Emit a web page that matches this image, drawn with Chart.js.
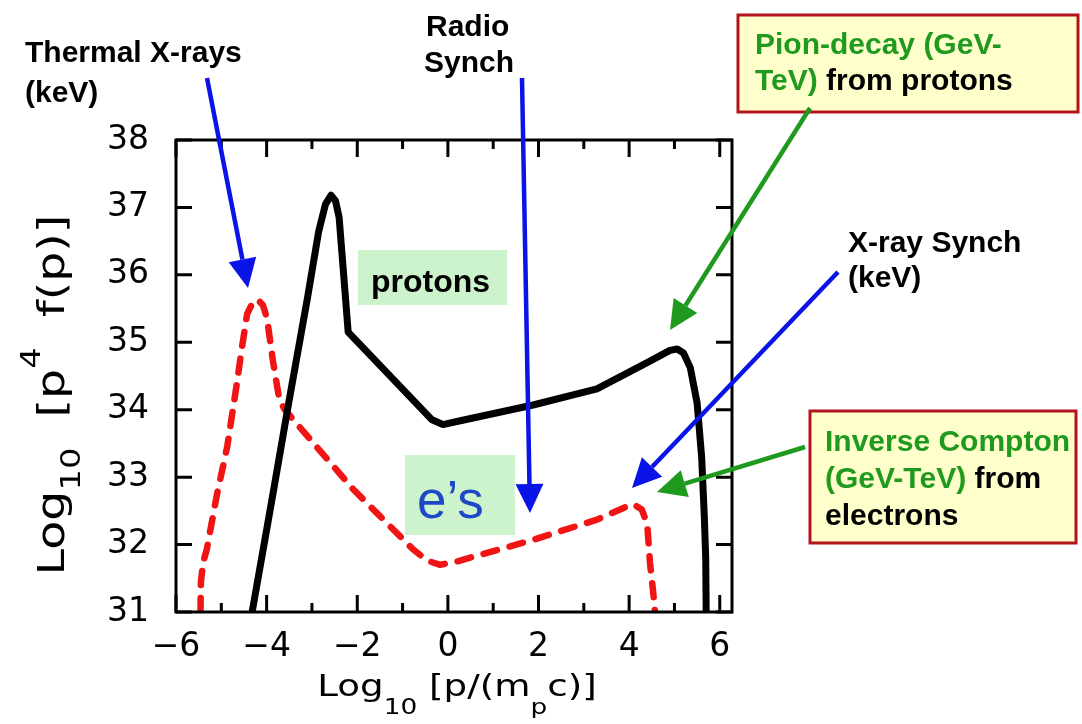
<!DOCTYPE html>
<html>
<head>
<meta charset="utf-8">
<script src="https://cdn.jsdelivr.net/npm/chart.js@4.4.1/dist/chart.umd.min.js"></script>
<style>
  html, body { margin: 0; padding: 0; background: #fff; }
  canvas { display: block; }
</style>
</head>
<body>
<canvas id="chart" width="1082" height="724"></canvas>
<script>
// axis ticks
const xTickValues = [-6, -4, -2, 0, 2, 4, 6];
const xMinorValues = [-5, -3, -1, 1, 3, 5];
const yTickValues = [31, 32, 33, 34, 35, 36, 37, 38];

// protons, solid black curve
const protonX = [-4.32, -3.9, -3.5, -3.1, -2.85, -2.7, -2.58, -2.48, -2.4, -2.2, -0.35, -0.11, 0.3, 1.88, 3.29, 4.46, 4.9, 5.06, 5.2, 5.35, 5.5, 5.6, 5.66, 5.69, 5.7];
const protonY = [31.0, 32.6, 34.15, 35.65, 36.65, 37.05, 37.18, 37.1, 36.85, 35.15, 33.85, 33.78, 33.84, 34.07, 34.31, 34.72, 34.88, 34.9, 34.84, 34.62, 34.1, 33.3, 32.4, 31.8, 31.0];

// electrons, dashed red curve
const electronX = [-5.46, -5.45, -5.4, -5.32, -5.1, -4.87, -4.65, -4.55, -4.43, -4.3, -4.19, -4.08, -3.99, -3.86, -3.72, -3.6, -2.09, -0.77, -0.45, -0.17, 0.2, 1.88, 3.29, 3.9, 4.09, 4.28, 4.4, 4.46, 4.53, 4.57];
const electronY = [31.0, 31.45, 31.74, 31.93, 32.73, 33.45, 34.42, 34.9, 35.42, 35.6, 35.63, 35.55, 35.35, 34.72, 34.15, 34.0, 32.82, 31.93, 31.76, 31.7, 31.75, 32.07, 32.37, 32.55, 32.6, 32.52, 32.3, 31.73, 31.3, 31.0];

const toPoints = (xs, ys) => xs.map((x, i) => ({ x: x, y: ys[i] }));

const BLUE = '#0a14e6';
const GREEN = '#1f9a1f';
const RED_BORDER = '#b3141c';
const LABEL_FONT = 'bold 30px "Liberation Sans"';

// annotation layout (canvas pixels)
const arrows = [
    { from: [207, 78], to: [248, 288], color: BLUE },
    { from: [522, 78], to: [530, 513], color: BLUE },
    { from: [810, 108], to: [670, 330], color: GREEN },
    { from: [838, 272], to: [632, 488], color: BLUE },
    { from: [805, 447], to: [657, 492], color: GREEN }
];

const calloutBoxes = [
    { x: 738, y: 15, w: 340, h: 97 },
    { x: 810, y: 411, w: 266, h: 132 }
];

const labelBoxes = [
    { x: 358, y: 250, w: 149, h: 55 },
    { x: 405, y: 455, w: 110, h: 80 }
];

// each line: x, baseline y, font, segments [text, color]
const textLines = [
    { x: 25, y: 62, font: LABEL_FONT, segs: [['Thermal X-rays', '#000']] },
    { x: 25, y: 102, font: LABEL_FONT, segs: [['(keV)', '#000']] },
    { x: 426, y: 36, font: LABEL_FONT, segs: [['Radio', '#000']] },
    { x: 424, y: 72, font: LABEL_FONT, segs: [['Synch', '#000']] },
    { x: 755, y: 54, font: LABEL_FONT, segs: [['Pion-decay (GeV-', GREEN]] },
    { x: 755, y: 90, font: LABEL_FONT, segs: [['TeV)', GREEN], [' from protons', '#000']] },
    { x: 848, y: 252, font: LABEL_FONT, segs: [['X-ray Synch', '#000']] },
    { x: 848, y: 287, font: LABEL_FONT, segs: [['(keV)', '#000']] },
    { x: 825, y: 451, font: LABEL_FONT, segs: [['Inverse Compton', GREEN]] },
    { x: 825, y: 488, font: LABEL_FONT, segs: [['(GeV-TeV)', GREEN], [' from', '#000']] },
    { x: 825, y: 525, font: LABEL_FONT, segs: [['electrons', '#000']] },
    { x: 371, y: 292, font: 'bold 32px "Liberation Sans"', segs: [['protons', '#000']] },
    { x: 417, y: 518, font: '53px "Liberation Sans"', segs: [['e\u2019s', '#1f48c8']] }
];

// axis titles: [text, size, dy]
const xTitle = [['Log', 31, 0], ['10', 22, 18], [' [p/(m', 31, 0], ['p', 22, 18], ['c)]', 31, 0]];
const yTitle = [['Log', 38, 0], ['10', 27, 16], ['  [p', 38, 0], ['4', 27, -24], ['  f(p)]', 38, 0]];

function drawRich(ctx, parts, stretch) {
    let w = 0;
    parts.forEach(p => {
        ctx.font = p[1] + 'px "DejaVu Sans"';
        w += ctx.measureText(p[0]).width;
    });
    ctx.scale(stretch, 1);
    let cx = -w / 2;
    parts.forEach(p => {
        ctx.font = p[1] + 'px "DejaVu Sans"';
        ctx.fillText(p[0], cx, p[2]);
        cx += ctx.measureText(p[0]).width;
    });
}

function drawArrow(ctx, a) {
    const [x0, y0] = a.from;
    const [x1, y1] = a.to;
    const ang = Math.atan2(y1 - y0, x1 - x0);
    const headLen = 29, headW = 14;
    const bx = x1 - headLen * Math.cos(ang);
    const by = y1 - headLen * Math.sin(ang);
    ctx.strokeStyle = a.color;
    ctx.fillStyle = a.color;
    ctx.lineWidth = 4.5;
    ctx.beginPath();
    ctx.moveTo(x0, y0);
    ctx.lineTo(bx, by);
    ctx.stroke();
    ctx.beginPath();
    ctx.moveTo(x1, y1);
    ctx.lineTo(bx + headW * Math.sin(ang), by - headW * Math.cos(ang));
    ctx.lineTo(bx - headW * Math.sin(ang), by + headW * Math.cos(ang));
    ctx.closePath();
    ctx.fill();
}

const framePlugin = {
    id: 'frame',
    beforeDatasetsDraw(chart) {
        const ctx = chart.ctx;
        ctx.save();
        ctx.fillStyle = '#cdf3cd';
        labelBoxes.forEach(b => ctx.fillRect(b.x, b.y, b.w, b.h));
        ctx.restore();
    },
    afterDraw(chart) {
        const ctx = chart.ctx;
        const area = chart.chartArea;
        const xs = chart.scales.x, ys = chart.scales.y;
        ctx.save();

        // box and inward ticks
        ctx.strokeStyle = '#000';
        ctx.lineWidth = 3;
        ctx.strokeRect(area.left, area.top, area.right - area.left, area.bottom - area.top);
        ctx.beginPath();
        yTickValues.forEach(v => {
            const py = ys.getPixelForValue(v);
            ctx.moveTo(area.left, py); ctx.lineTo(area.left + 16, py);
            ctx.moveTo(area.right, py); ctx.lineTo(area.right - 16, py);
        });
        xTickValues.forEach(v => {
            const px = xs.getPixelForValue(v);
            ctx.moveTo(px, area.bottom); ctx.lineTo(px, area.bottom - 17);
            ctx.moveTo(px, area.top); ctx.lineTo(px, area.top + 17);
        });
        xMinorValues.forEach(v => {
            const px = xs.getPixelForValue(v);
            ctx.moveTo(px, area.bottom); ctx.lineTo(px, area.bottom - 9);
            ctx.moveTo(px, area.top); ctx.lineTo(px, area.top + 9);
        });
        ctx.stroke();

        // axis titles
        ctx.fillStyle = '#000';
        ctx.textBaseline = 'alphabetic';
        ctx.save();
        ctx.translate(457, 696);
        drawRich(ctx, xTitle, 1.2);
        ctx.restore();
        ctx.save();
        ctx.translate(64, 395);
        ctx.rotate(-Math.PI / 2);
        drawRich(ctx, yTitle, 1.25);
        ctx.restore();

        // callouts
        calloutBoxes.forEach(b => {
            ctx.fillStyle = '#ffffcc';
            ctx.fillRect(b.x, b.y, b.w, b.h);
            ctx.strokeStyle = RED_BORDER;
            ctx.lineWidth = 3;
            ctx.strokeRect(b.x, b.y, b.w, b.h);
        });
        textLines.forEach(l => {
            ctx.font = l.font;
            let cx = l.x;
            l.segs.forEach(s => {
                ctx.fillStyle = s[1];
                ctx.fillText(s[0], cx, l.y);
                cx += ctx.measureText(s[0]).width;
            });
        });
        arrows.forEach(a => drawArrow(ctx, a));
        ctx.restore();
    }
};

const tickFont = { family: 'DejaVu Sans', size: 33 };

new Chart(document.getElementById('chart'), {
    type: 'line',
    data: {
        datasets: [
            {
                label: 'protons',
                data: toPoints(protonX, protonY),
                borderColor: '#000',
                borderWidth: 7,
                pointRadius: 0,
                tension: 0,
                borderJoinStyle: 'round',
                fill: false
            },
            {
                label: 'electrons',
                data: toPoints(electronX, electronY),
                borderColor: '#f01414',
                borderWidth: 6.5,
                borderDash: [14, 13],
                borderCapStyle: 'round',
                borderJoinStyle: 'round',
                pointRadius: 0,
                tension: 0,
                fill: false
            }
        ]
    },
    options: {
        responsive: false,
        animation: false,
        devicePixelRatio: 1,
        layout: { padding: { left: 0, top: 140, right: 350, bottom: 0 } },
        plugins: {
            legend: { display: false },
            tooltip: { enabled: false }
        },
        scales: {
            x: {
                type: 'linear',
                min: -6,
                max: 6.27,
                afterBuildTicks: s => { s.ticks = xTickValues.map(v => ({ value: v })); },
                afterFit: s => { s.height = 112; },
                grid: { display: false, drawTicks: false },
                border: { display: false },
                ticks: {
                    font: tickFont,
                    color: '#000',
                    padding: 16,
                    maxRotation: 0,
                    autoSkip: false,
                    callback: v => String(v).replace('-', '\u2212')
                }
            },
            y: {
                type: 'linear',
                min: 31,
                max: 38,
                afterBuildTicks: s => { s.ticks = yTickValues.map(v => ({ value: v })); },
                afterFit: s => { s.width = 176; },
                grid: { display: false, drawTicks: false },
                border: { display: false },
                ticks: {
                    font: tickFont,
                    color: '#000',
                    padding: 27,
                    autoSkip: false,
                    callback: v => String(v)
                }
            }
        }
    },
    plugins: [framePlugin]
});
</script>
</body>
</html>
